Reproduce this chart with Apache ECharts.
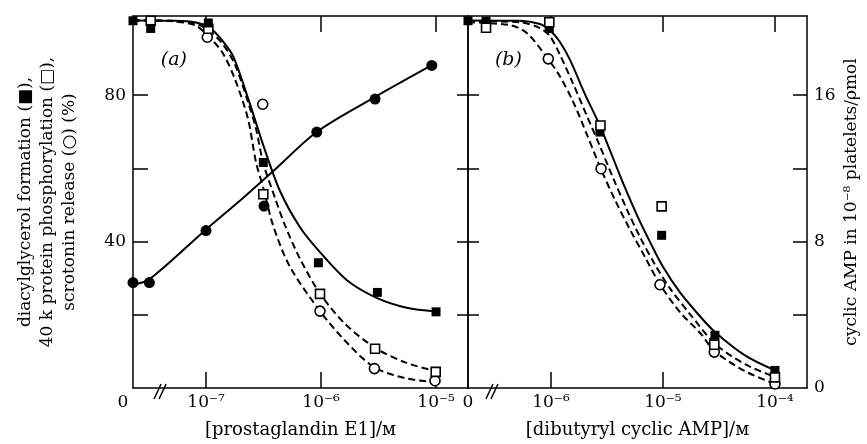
<!DOCTYPE html>
<html>
<head>
<meta charset="utf-8">
<script src="https://cdn.jsdelivr.net/npm/echarts@6/dist/echarts.min.js"></script>
<style>
  html, body { margin: 0; background: #fff; }
  #chart { width: 867px; height: 444px; }
</style>
</head>
<body>
<div id="chart"></div>
<script>
// x values are log10 of the concentration (M); each panel's first x is the "0" spot left of the break
const aMin = -7.635, aMax = -4.722
const bMin = -6.741, bMax = -3.714
const aTicks = [-7, -6, -5]
const bTicks = [-6, -5, -4]
const pctTicks = [20, 40, 60, 80]
const pctLabels = [40, 80]
const campTicks = [4, 8, 12, 16]
const campLabels = [0, 8, 16]
const pctMax = 101.6
const campMax = pctMax / 5
const aBreak = -7.417
const bBreak = -6.545

// (a) prostaglandin E1 — measured points
const aDag = [[-7.635, 100.3], [-7.481, 98.2], [-6.980, 99.7], [-6.502, 61.6], [-6.023, 34.2], [-5.510, 26.1], [-5.0, 20.8]]
const aProt = [[-7.481, 100.3], [-6.980, 98.1], [-6.502, 52.9], [-6.009, 25.7], [-5.530, 10.7], [-5.003, 4.4]]
const aSer = [[-6.989, 95.8], [-6.507, 77.5], [-6.009, 21.0], [-5.536, 5.3], [-5.009, 2.0]]
const aCamp = [[-7.635, 5.76], [-7.493, 5.76], [-7.0, 8.6], [-6.496, 9.94], [-6.037, 13.98], [-5.530, 15.78], [-5.037, 17.62]]
// (a) drawn curves
const aDagFit = [[-7.635, 100.4], [-7.313, 100.3], [-7.096, 99.9], [-6.965, 98.3], [-6.861, 95.0], [-6.763, 90.5], [-6.632, 78.9], [-6.502, 66.3], [-6.357, 53.8], [-6.183, 43.9], [-6.023, 37.6], [-5.777, 29.5], [-5.516, 24.6], [-5.255, 21.9], [-5.0, 20.9]]
const aProtFit = [[-7.635, 100.4], [-7.313, 100.3], [-7.096, 99.6], [-6.991, 98.0], [-6.861, 94.2], [-6.748, 88.3], [-6.635, 78.1], [-6.565, 70.8], [-6.504, 61.6], [-6.4, 51.9], [-6.313, 44.4], [-6.183, 35.3], [-6.009, 25.8], [-5.791, 17.5], [-5.530, 11.0], [-5.270, 7.0], [-5.0, 4.6]]
const aSerFit = [[-7.635, 100.4], [-7.313, 100.2], [-7.096, 99.1], [-6.991, 96.4], [-6.861, 91.8], [-6.748, 84.3], [-6.635, 73.5], [-6.565, 61.6], [-6.496, 54.0], [-6.417, 44.4], [-6.270, 33.1], [-6.009, 21.0], [-5.791, 12.9], [-5.539, 5.7], [-5.270, 2.7], [-5.0, 1.6]]
const aCampFit = [[-7.635, 5.66], [-7.496, 5.92], [-7.0, 8.66], [-6.678, 10.38], [-6.417, 11.84], [-6.035, 14.0], [-5.513, 15.96], [-5.052, 17.58]]

// (b) dibutyryl cyclic AMP — measured points
const bDag = [[-6.741, 100.3], [-6.58, 100.2], [-6.015, 98.2], [-5.5625, 69.9], [-5.012, 41.7], [-4.536, 14.4], [-4.0, 4.8]]
const bProt = [[-6.58, 98.4], [-6.015, 99.9], [-5.558, 71.7], [-5.012, 49.6], [-4.542, 11.8], [-4.0, 2.9]]
const bSer = [[-6.024, 89.9], [-5.553, 59.9], [-5.027, 28.2], [-4.542, 9.8], [-4.0, 1.1]]
// (b) drawn curves
const bDagFit = [[-6.741, 100.4], [-6.277, 100.3], [-6.098, 99.4], [-6.009, 97.7], [-5.920, 94.5], [-5.830, 89.6], [-5.696, 80.2], [-5.5625, 71.6], [-5.455, 63.5], [-5.339, 54.7], [-5.223, 46.6], [-5.116, 39.9], [-5.0, 33.1], [-4.848, 26.1], [-4.670, 19.6], [-4.536, 15.3], [-4.268, 8.9], [-4.0, 4.8]]
const bProtFit = [[-6.741, 100.2], [-6.277, 99.9], [-6.098, 98.3], [-6.009, 96.1], [-5.920, 91.0], [-5.804, 83.2], [-5.679, 74.3], [-5.5625, 66.0], [-5.446, 57.4], [-5.330, 49.3], [-5.205, 41.2], [-5.071, 33.7], [-4.938, 27.2], [-4.759, 20.2], [-4.536, 12.1], [-4.268, 6.5], [-4.0, 3.0]]
const bSerFit = [[-6.741, 99.9], [-6.366, 99.1], [-6.214, 96.9], [-6.027, 89.9], [-5.920, 85.1], [-5.804, 78.3], [-5.679, 69.2], [-5.554, 59.8], [-5.429, 51.4], [-5.295, 43.3], [-5.161, 35.8], [-5.027, 28.3], [-4.848, 20.7], [-4.670, 15.1], [-4.536, 10.0], [-4.268, 4.6], [-4.0, 1.1]]

const FONT = '"DejaVu Serif", "Liberation Serif", serif'
const INK = '#000'
const SUP = { '-': '\u207B', '0': '\u2070', '1': '\u00B9', '2': '\u00B2', '3': '\u00B3', '4': '\u2074', '5': '\u2075', '6': '\u2076', '7': '\u2077', '8': '\u2078', '9': '\u2079' }
const sup = (n) => String(n).split('').map((c) => SUP[c] || c).join('')

const lineStyleAxis = { color: INK, width: 1.5 }

function xBottom(gridIndex, min, max, ticks, zeroPad) {
  return {
    type: 'value', gridIndex, min, max, position: 'bottom',
    axisLine: { show: true, onZero: false, lineStyle: lineStyleAxis },
    axisTick: { show: true, inside: true, length: 16, customValues: ticks, lineStyle: lineStyleAxis },
    axisLabel: {
      customValues: [min, ...ticks], showMinLabel: true, showMaxLabel: true,
      color: INK, fontFamily: FONT, fontSize: 17, margin: 6,
      formatter: (v) => (Math.abs(v - min) < 1e-6 ? '{z|0}' : '10' + sup(Math.round(v))),
      rich: { z: { fontFamily: FONT, fontSize: 17, color: INK, padding: [0, zeroPad, 0, 0] } },
    },
    splitLine: { show: false },
  }
}

function xTop(gridIndex, min, max, ticks) {
  return {
    type: 'value', gridIndex, min, max, position: 'top',
    axisLine: { show: true, onZero: false, lineStyle: lineStyleAxis },
    axisTick: { show: true, inside: true, length: 16, customValues: ticks, lineStyle: lineStyleAxis },
    axisLabel: { show: false },
    splitLine: { show: false },
  }
}

function yAxis(gridIndex, position, max, ticks, tickLen, labels, extra) {
  return Object.assign({
    type: 'value', gridIndex, position, min: 0, max,
    axisLine: { show: true, onZero: false, lineStyle: lineStyleAxis },
    axisTick: { show: true, inside: true, length: tickLen, customValues: ticks, lineStyle: lineStyleAxis },
    axisLabel: labels
      ? { customValues: labels, color: INK, fontFamily: FONT, fontSize: 17, margin: 7, showMinLabel: true, showMaxLabel: true }
      : { show: false },
    splitLine: { show: false },
  }, extra || {})
}

function curve(data, xi, yi, dashed) {
  return {
    type: 'line', data, xAxisIndex: xi, yAxisIndex: yi,
    smooth: 0.3, symbol: 'none', silent: true, z: 2,
    lineStyle: { color: INK, width: 2, type: dashed ? [7, 4] : 'solid' },
  }
}

function marks(data, xi, yi, kind) {
  const filled = kind === 'sq' || kind === 'dot'
  return {
    type: 'scatter', data, xAxisIndex: xi, yAxisIndex: yi, z: 5,
    symbol: kind === 'sq' || kind === 'osq' ? 'rect' : 'circle',
    symbolSize: kind === 'dot' ? 11 : (kind === 'circ' ? 10 : 9),
    itemStyle: filled
      ? { color: INK, borderWidth: 0, opacity: 1 }
      : { color: '#fff', borderColor: INK, borderWidth: 1.6, opacity: 1 },
  }
}

const chart = echarts.init(document.getElementById('chart'), null, { renderer: 'canvas' })

chart.setOption({
  animation: false,
  backgroundColor: '#fff',
  grid: [
    { left: 133, top: 16, width: 335, height: 376 },
    { left: 468, top: 16, width: 339, height: 376 },
  ],
  xAxis: [
    Object.assign(xBottom(0, aMin, aMax, aTicks, 20), {
      name: '[prostaglandin E1]/\u043C', nameLocation: 'middle', nameGap: 33,
      nameTextStyle: { color: INK, fontFamily: FONT, fontSize: 18 },
    }),
    xTop(0, aMin, aMax, aTicks),
    Object.assign(xBottom(1, bMin, bMax, bTicks, 0), {
      name: '[dibutyryl cyclic AMP]/\u043C', nameLocation: 'middle', nameGap: 33,
      nameTextStyle: { color: INK, fontFamily: FONT, fontSize: 18 },
    }),
    xTop(1, bMin, bMax, bTicks),
  ],
  yAxis: [
    yAxis(0, 'left', pctMax, pctTicks, 15, pctLabels, {
      name: 'diacylglycerol formation (\u25A0),\n40 k protein phosphorylation (\u25A1),\nscrotonin release (\u25CB) (%)',
      nameLocation: 'middle', nameRotate: 90, nameGap: 52,
      nameTextStyle: { color: INK, fontFamily: FONT, fontSize: 17, lineHeight: 22, align: 'center' },
    }),
    yAxis(0, 'right', campMax, campTicks, 11, null),
    yAxis(1, 'left', pctMax, pctTicks, 11, null),
    yAxis(1, 'right', campMax, campTicks, 14, campLabels, {
      name: 'cyclic AMP in 10' + sup(-8) + ' platelets/\u03C1mol',
      nameLocation: 'middle', nameRotate: 90, nameGap: 36,
      nameTextStyle: { color: INK, fontFamily: FONT, fontSize: 17 },
    }),
  ],
  series: [
    curve(aDagFit, 0, 0, false),
    curve(aProtFit, 0, 0, true),
    curve(aSerFit, 0, 0, true),
    curve(aCampFit, 0, 1, false),
    curve(bDagFit, 2, 2, false),
    curve(bProtFit, 2, 2, true),
    curve(bSerFit, 2, 2, true),
    marks(aSer, 0, 0, 'circ'),
    marks(aProt, 0, 0, 'osq'),
    marks(aDag, 0, 0, 'sq'),
    marks(aCamp, 0, 1, 'dot'),
    marks(bSer, 2, 2, 'circ'),
    marks(bDag, 2, 2, 'sq'),
    marks(bProt, 2, 2, 'osq'),
  ],
})

// axis-break slashes and panel tags
const yBase = chart.convertToPixel({ yAxisIndex: 0 }, 0)
const slashes = (x) => [0, 5].map((dx) => ({
  type: 'line', silent: true, z: 10,
  shape: { x1: x - 4 + dx, y1: yBase + 11, x2: x + 3 + dx, y2: yBase - 4 },
  style: { stroke: INK, lineWidth: 1.5 },
}))
const xa = chart.convertToPixel({ xAxisIndex: 0 }, aBreak)
const xb = chart.convertToPixel({ xAxisIndex: 2 }, bBreak)
const tag = (txt, x) => ({
  type: 'text', silent: true, z: 10, x, y: 60,
  style: { text: txt, fill: INK, font: 'italic 19px ' + FONT, align: 'center', verticalAlign: 'middle' },
})
chart.setOption({
  graphic: [
    ...slashes(xa), ...slashes(xb),
    tag('(a)', chart.convertToPixel({ xAxisIndex: 0 }, -7.28)),
    tag('(b)', chart.convertToPixel({ xAxisIndex: 2 }, -6.38)),
  ],
})
</script>
</body>
</html>
